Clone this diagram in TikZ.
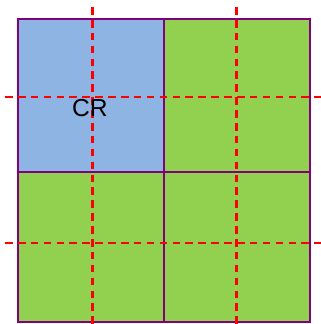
\documentclass[tikz,border=0pt]{standalone}
\usepackage{fontspec}
\setmainfont{Liberation Sans}
\usepackage{tikz}

\definecolor{cellblue}{HTML}{8DB4E2}
\definecolor{cellgreen}{HTML}{92D050}
\definecolor{cellpurple}{HTML}{800080}

\begin{document}
\begin{tikzpicture}[x=0.03cm, y=-0.03cm, cell/.style={draw=cellpurple, line width=2pt}, cut/.style={draw=red, line width=1.8pt, dash pattern=on 6.5pt off 4.5pt}]
	\useasboundingbox (0,0) rectangle (321,324);
	% four tiles
	\path[cell, fill=cellblue] (18,19) rectangle (164,172);
	\path[cell, fill=cellgreen] (164,19) rectangle (310,172);
	\path[cell, fill=cellgreen] (18,172) rectangle (164,322);
	\path[cell, fill=cellgreen] (164,172) rectangle (310,322);
	% dashed cut lines
	\coordinate (v1t) at (92.5,7);
	\coordinate (v1b) at (92.5,324);
	\coordinate (v2t) at (236.5,7);
	\coordinate (v2b) at (236.5,324);
	\coordinate (h1l) at (5,97);
	\coordinate (h1r) at (321,97);
	\coordinate (h2l) at (5,243);
	\coordinate (h2r) at (321,243);
	\path[cut] (v1t) -- (v1b);
	\path[cut] (v2t) -- (v2b);
	\path[cut] (h1l) -- (h1r);
	\path[cut] (h2l) -- (h2r);
	\node[font=\fontsize{21}{25}\selectfont, inner sep=0pt] (cr) at (90,108) {CR};
\end{tikzpicture}
\end{document}
